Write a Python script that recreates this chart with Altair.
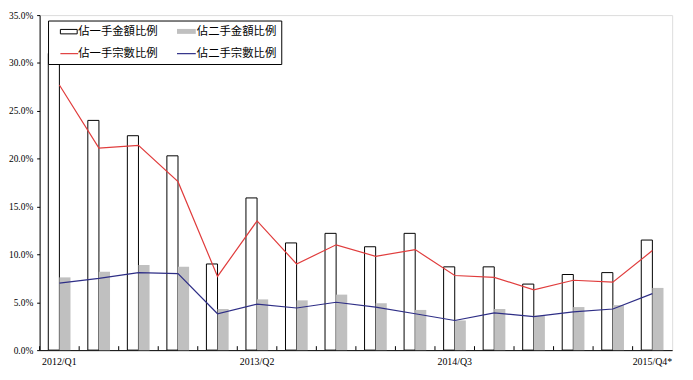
import altair as alt
import pandas as pd

quarters = ["2012/Q1", "2012/Q2", "2012/Q3", "2012/Q4",
            "2013/Q1", "2013/Q2", "2013/Q3", "2013/Q4",
            "2014/Q1", "2014/Q2", "2014/Q3", "2014/Q4",
            "2015/Q1", "2015/Q2", "2015/Q3", "2015/Q4*"]
shown_labels = ["2012/Q1", "2013/Q2", "2014/Q3", "2015/Q4*"]

first_amount = [31.0, 24.0, 22.4, 20.3, 9.0, 15.9, 11.2, 12.2,
                10.8, 12.2, 8.7, 8.7, 6.9, 7.9, 8.1, 11.5]
second_amount = [7.6, 8.2, 8.9, 8.7, 4.3, 5.3, 5.2, 5.8,
                 4.9, 4.2, 3.1, 4.3, 3.6, 4.5, 4.7, 6.5]
first_count = [27.7, 21.1, 21.4, 17.6, 7.7, 13.5, 9.0, 11.0,
               9.8, 10.5, 7.8, 7.6, 6.3, 7.3, 7.1, 10.4]
second_count = [7.0, 7.5, 8.1, 8.0, 3.8, 4.8, 4.4, 5.0,
                4.5, 3.8, 3.1, 3.9, 3.5, 4.0, 4.3, 5.9]

series_names = ["佔一手金額比例", "佔二手金額比例", "佔一手宗數比例", "佔二手宗數比例"]

bar_df = pd.DataFrame({
    "quarter": quarters * 2,
    "series": [series_names[0]] * 16 + [series_names[1]] * 16,
    "value": [v / 100 for v in first_amount + second_amount],
})
line1_df = pd.DataFrame({"quarter": quarters, "value": [v / 100 for v in first_count]})
line2_df = pd.DataFrame({"quarter": quarters, "value": [v / 100 for v in second_count]})
tick_df = pd.DataFrame({"quarter": quarters})

W, H = 640, 339
RED = "#E03C3C"
NAVY = "#2E2E86"
GRAY = "#C0C0C0"
SERIF = "Liberation Serif"
CJK = "Noto Sans CJK TC"

xscale = alt.Scale(domain=quarters, paddingInner=0, paddingOuter=0)
yscale = alt.Scale(domain=[0, 0.35], nice=False)

x_axis = alt.Axis(values=shown_labels, labelAngle=0, ticks=False, tickSize=0,
                  labelPadding=7, labelFont=SERIF, labelFontSize=10,
                  labelColor="black", domainColor="black", title=None)
y_axis = alt.Axis(values=[0, 0.05, 0.10, 0.15, 0.20, 0.25, 0.30, 0.35],
                  format=".1%", grid=False, tickSize=3, tickColor="black",
                  labelPadding=4, labelFont=SERIF, labelFontSize=9.5,
                  labelColor="black", domainColor="black", title=None)

bars = alt.Chart(bar_df).mark_bar(strokeWidth=1).encode(
    x=alt.X("quarter:N", scale=xscale, axis=x_axis, sort=quarters),
    xOffset=alt.XOffset("series:N", scale=alt.Scale(domain=series_names[:2], paddingOuter=0.78, paddingInner=0)),
    y=alt.Y("value:Q", scale=yscale, axis=y_axis),
    color=alt.Color("series:N", scale=alt.Scale(domain=series_names[:2], range=["white", GRAY]), legend=None),
    stroke=alt.Stroke("series:N", scale=alt.Scale(domain=series_names[:2], range=["black", "transparent"]), legend=None),
)

line1 = alt.Chart(line1_df).mark_line(color=RED, strokeWidth=1.2).encode(
    x=alt.X("quarter:N", scale=xscale, sort=quarters), y=alt.Y("value:Q", scale=yscale))
line2 = alt.Chart(line2_df).mark_line(color=NAVY, strokeWidth=1.2).encode(
    x=alt.X("quarter:N", scale=xscale, sort=quarters), y=alt.Y("value:Q", scale=yscale))

ticks = alt.Chart(tick_df).mark_rule(color="black", strokeWidth=1).encode(
    x=alt.X("quarter:N", scale=xscale, sort=quarters, bandPosition=0),
    y=alt.value(H - 4), y2=alt.value(H))

one = alt.Data(values=[{"a": 1}])
leg_box = alt.Chart(one).mark_rect(fill="white", stroke="black", strokeWidth=1).encode(
    x=alt.value(9), x2=alt.value(245), y=alt.value(6), y2=alt.value(50))
sym1 = alt.Chart(one).mark_rect(fill="white", stroke="black", strokeWidth=1).encode(
    x=alt.value(21), x2=alt.value(38), y=alt.value(14.5), y2=alt.value(19))
sym2 = alt.Chart(one).mark_rect(fill=GRAY).encode(
    x=alt.value(139), x2=alt.value(158), y=alt.value(14), y2=alt.value(19))
sym3 = alt.Chart(one).mark_rule(color=RED, strokeWidth=1.2).encode(
    x=alt.value(21), x2=alt.value(39), y=alt.value(39))
sym4 = alt.Chart(one).mark_rule(color=NAVY, strokeWidth=1.2).encode(
    x=alt.value(139), x2=alt.value(158), y=alt.value(39))

def leg_text(label, xx, yy):
    return alt.Chart(one).mark_text(text=label, align="left", baseline="middle",
                                    font=CJK, fontSize=11.5, color="black").encode(
        x=alt.value(xx), y=alt.value(yy))

texts = [leg_text(series_names[0], 39, 17), leg_text(series_names[1], 159, 17),
         leg_text(series_names[2], 39, 39), leg_text(series_names[3], 159, 39)]

chart = alt.layer(bars, ticks, line1, line2, leg_box, sym1, sym2, sym3, sym4, *texts).properties(
    width=W, height=H,
    autosize=alt.AutoSizeParams(type="none"),
    padding={"left": 32, "top": 5, "right": 13, "bottom": 25},
).configure_view(stroke="#808080", strokeWidth=1).configure(background="white")

chart.save("out.html", embed_options={"renderer": "svg", "actions": False})
